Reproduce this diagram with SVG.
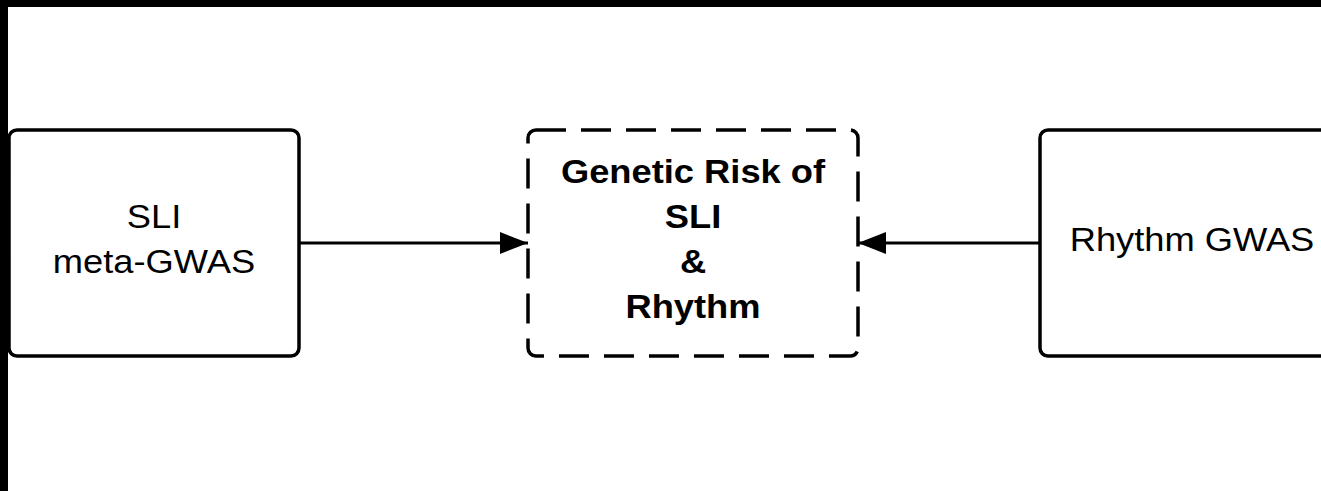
<svg xmlns="http://www.w3.org/2000/svg" width="1321" height="491" viewBox="0 0 1321 491">
  <style>
    .box { fill: #ffffff; stroke: #000000; stroke-width: 3.5; }
    .dash { stroke-dasharray: 30 15; }
    .edge { stroke: #000000; stroke-width: 3; fill: none; }
    .lbl { font-family: "Liberation Sans", Arial, sans-serif; font-size: 33px; fill: #000000; text-anchor: middle; }
    .bold { font-weight: bold; }
  </style>
  <defs>
    <marker id="arrow" viewBox="0 0 28 22" refX="28" refY="11" markerWidth="28" markerHeight="22" markerUnits="userSpaceOnUse" orient="auto">
      <path d="M0,0 L28,11 L0,22 Z" fill="#000000"/>
    </marker>
  </defs>

  <!-- page background and frame bands -->
  <rect x="0" y="0" width="1321" height="491" fill="#ffffff"/>
  <rect x="0" y="0" width="1321" height="7" fill="#000000"/>
  <rect x="0" y="0" width="8" height="491" fill="#000000"/>

  <g id="connectors">
    <line class="edge" x1="300" y1="243" x2="528" y2="243" marker-end="url(#arrow)"/>
    <line class="edge" x1="1040" y1="243" x2="858" y2="243" marker-end="url(#arrow)"/>
  </g>

  <g id="sli-meta-gwas">
    <rect class="box" x="9" y="130" width="290" height="226" rx="8"/>
    <text class="lbl" transform="translate(154 0) scale(1.1 1)" x="0" y="228">SLI</text>
    <text class="lbl" transform="translate(154 0) scale(1.1 1)" x="0" y="273">meta-GWAS</text>
  </g>

  <g id="genetic-risk">
    <rect class="box dash" x="528" y="130" width="330" height="226" rx="8"/>
    <text class="lbl bold" transform="translate(693 0) scale(1.1 1)" x="0" y="183">Genetic Risk of</text>
    <text class="lbl bold" transform="translate(693 0) scale(1.1 1)" x="0" y="228">SLI</text>
    <text class="lbl bold" transform="translate(693 0) scale(1.1 1)" x="0" y="273">&amp;</text>
    <text class="lbl bold" transform="translate(693 0) scale(1.1 1)" x="0" y="318">Rhythm</text>
  </g>

  <g id="rhythm-gwas">
    <rect class="box" x="1040" y="130" width="320" height="226" rx="8"/>
    <text class="lbl" transform="translate(1192 0) scale(1.1 1)" x="0" y="251">Rhythm GWAS</text>
  </g>
</svg>
